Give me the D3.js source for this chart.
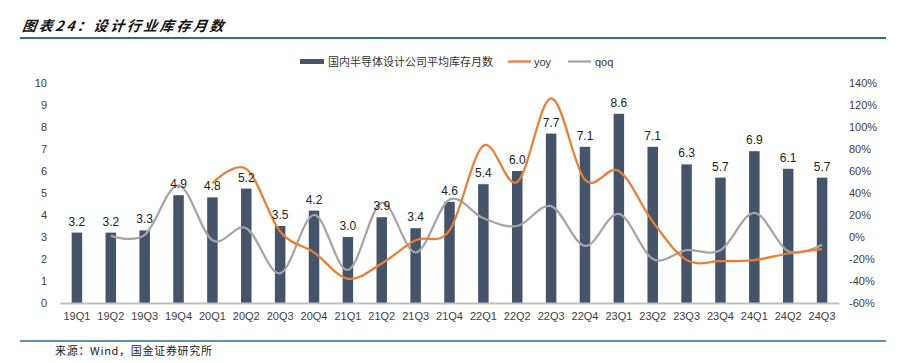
<!DOCTYPE html>
<html>
<head>
<meta charset="utf-8">
<script src="https://cdn.jsdelivr.net/npm/d3@7"></script>
<style>
  body { margin: 0; background: #fff; }
  svg { display: block; }
</style>
</head>
<body>
<svg id="chart" width="898" height="363"></svg>
<script>
const categories = ["19Q1","19Q2","19Q3","19Q4","20Q1","20Q2","20Q3","20Q4","21Q1","21Q2","21Q3","21Q4","22Q1","22Q2","22Q3","22Q4","23Q1","23Q2","23Q3","23Q4","24Q1","24Q2","24Q3"];
const months = [3.2,3.2,3.3,4.9,4.8,5.2,3.5,4.2,3.0,3.9,3.4,4.6,5.4,6.0,7.7,7.1,8.6,7.1,6.3,5.7,6.9,6.1,5.7];
const yoy = [null,null,null,null,49,62,5,-14,-38,-24,-3,6,83,50,126,52,60,14,-21,-22,-21,-15,-11];
const qoq = [null,1,2,47,-3,8,-33,20,-30,31,-14,34,17,10,28,-8,21,-20,-12,-12,22,-13,-7];
const leftTicks = [0,1,2,3,4,5,6,7,8,9,10];
const rightTicks = [-60,-40,-20,0,20,40,60,80,100,120,140];
const title = "图表24：设计行业库存月数";
const source = "来源：Wind，国金证券研究所";
const seriesNames = ["国内半导体设计公司平均库存月数","yoy","qoq"];

const svg = d3.select("#chart");
const font = "Arial, 'Liberation Sans', 'Noto Sans CJK SC', sans-serif";
const barColor = "#44546A", yoyColor = "#ED7D31", qoqColor = "#A5A5A5";

const x = d3.scaleBand().domain(categories).range([60, 839]).paddingInner(0.69).paddingOuter(0.345);
const yL = d3.scaleLinear().domain([0,10]).range([303, 83]);
const yR = d3.scaleLinear().domain([-60,140]).range([303, 83]);

// Title
svg.append("text").attr("x", 22).attr("y", 31)
  .attr("font-family", "'Noto Sans CJK SC', sans-serif").attr("font-size", 14)
  .attr("font-weight", "bold").attr("font-style", "italic").attr("fill", "#111")
  .attr("letter-spacing", 2.6)
  .attr("transform", "skewX(-8) translate(4,0)")
  .text(title);
svg.append("line").attr("x1", 20).attr("x2", 886).attr("y1", 38).attr("y2", 38)
  .attr("stroke", "#2E6E8E").attr("stroke-width", 2);

// Footer
svg.append("line").attr("x1", 20).attr("x2", 886).attr("y1", 341).attr("y2", 341)
  .attr("stroke", "#2E6E8E").attr("stroke-width", 1.5);
svg.append("text").attr("x", 55).attr("y", 355)
  .attr("font-family", "'Noto Sans CJK SC', 'DejaVu Sans Mono', monospace").attr("font-size", 11)
  .attr("letter-spacing", 0.7)
  .attr("fill", "#222").text(source);

// Axes
const axL = svg.append("g").attr("transform", "translate(60,0)")
  .call(d3.axisLeft(yL).tickValues(leftTicks).tickSize(0).tickPadding(13));
axL.select(".domain").remove();
axL.selectAll("text").attr("font-family", font).attr("font-size", 11).attr("fill", "#404040");

const axR = svg.append("g").attr("transform", "translate(839,0)")
  .call(d3.axisRight(yR).tickValues(rightTicks).tickSize(0).tickPadding(10).tickFormat(d => d + "%"));
axR.select(".domain").remove();
axR.selectAll("text").attr("font-family", font).attr("font-size", 11).attr("fill", "#404040");

// Bars
svg.append("g").selectAll("rect").data(months).join("rect")
  .attr("x", (d,i) => x(categories[i]))
  .attr("y", d => yL(d))
  .attr("width", x.bandwidth())
  .attr("height", d => yL(0) - yL(d))
  .attr("fill", barColor);

// X axis
const axX = svg.append("g").attr("transform", "translate(0,303)")
  .call(d3.axisBottom(x).tickSize(0).tickPadding(9));
axX.select(".domain").attr("stroke", "#BFBFBF").attr("stroke-width", 2);
axX.selectAll("text").attr("font-family", font).attr("font-size", 11).attr("fill", "#404040");

// Lines
function drawLine(arr, color) {
  const pts = arr.map((v,i) => ({v, i})).filter(p => p.v != null);
  const g = d3.line().x(p => x(categories[p.i]) + x.bandwidth()/2).y(p => yR(p.v)).curve(d3.curveCardinal.tension(0));
  svg.append("path").attr("d", g(pts)).attr("fill", "none").attr("stroke", color).attr("stroke-width", 2.25);
}
drawLine(qoq, qoqColor);
drawLine(yoy, yoyColor);

// Bar labels
svg.append("g").selectAll("text").data(months).join("text")
  .attr("x", (d,i) => x(categories[i]) + x.bandwidth()/2)
  .attr("y", d => yL(d) - 7)
  .attr("text-anchor", "middle")
  .attr("font-family", font).attr("font-size", 12).attr("fill", "#222")
  .text(d => d.toFixed(1));

// Legend
const lg = svg.append("g").attr("font-family", font).attr("font-size", 11).attr("fill", "#333");
lg.append("rect").attr("x", 300).attr("y", 59).attr("width", 24).attr("height", 5).attr("fill", barColor);
lg.append("text").attr("x", 328).attr("y", 65.5).attr("font-family", "'Noto Sans CJK SC', sans-serif").text(seriesNames[0]);
lg.append("line").attr("x1", 508).attr("x2", 531).attr("y1", 61.5).attr("y2", 61.5).attr("stroke", yoyColor).attr("stroke-width", 2.25);
lg.append("text").attr("x", 534).attr("y", 65.5).text(seriesNames[1]);
lg.append("line").attr("x1", 568).attr("x2", 591).attr("y1", 61.5).attr("y2", 61.5).attr("stroke", qoqColor).attr("stroke-width", 2.25);
lg.append("text").attr("x", 595).attr("y", 65.5).text(seriesNames[2]);
</script>
</body>
</html>
